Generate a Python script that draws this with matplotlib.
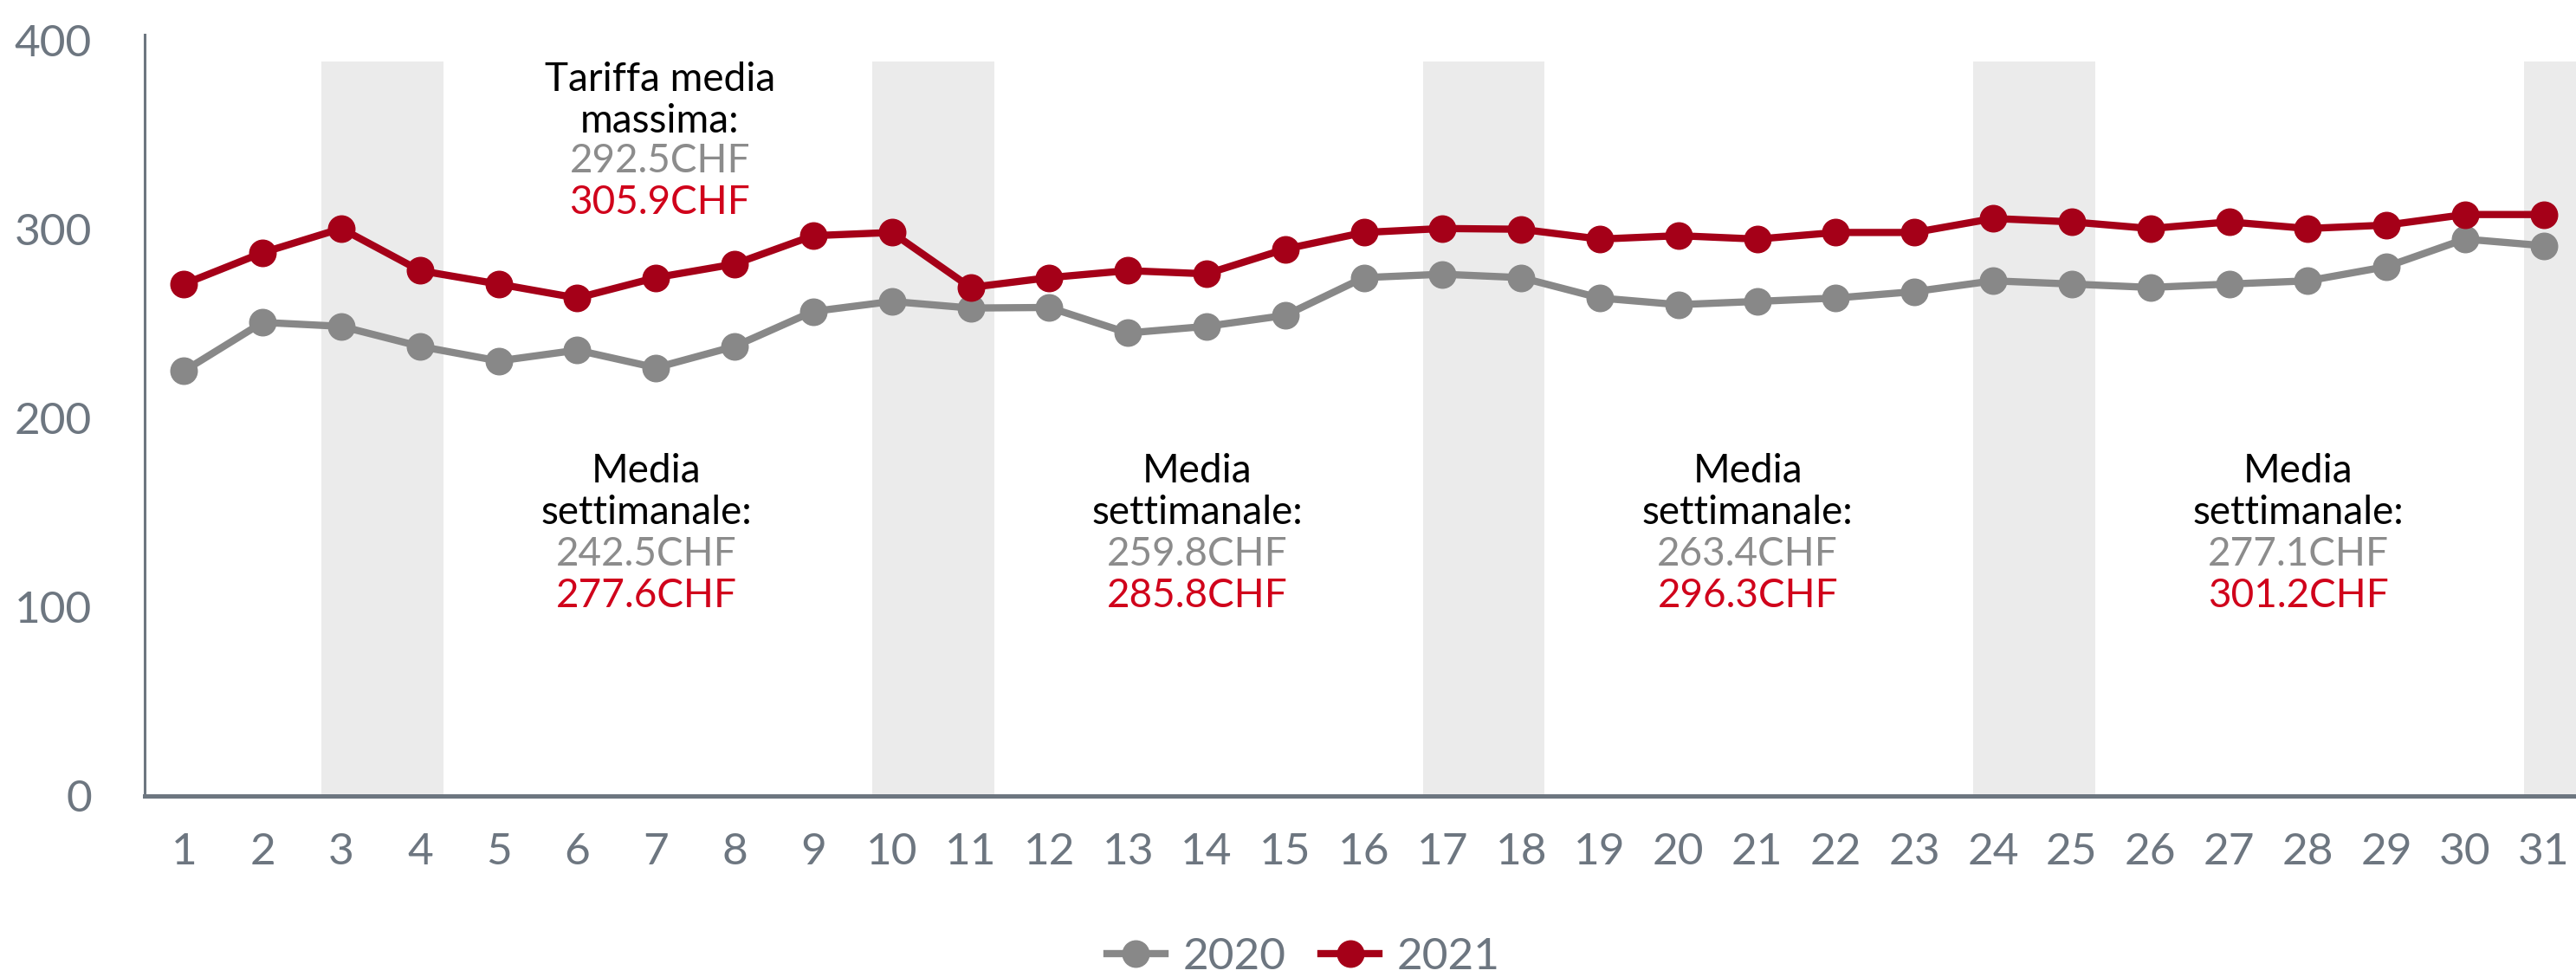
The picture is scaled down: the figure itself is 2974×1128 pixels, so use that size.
import matplotlib.pyplot as plt
import numpy as np

plt.rcParams['font.family'] = ['Lato', 'DejaVu Sans']

# daily average fare, CHF
days = np.arange(1, 32)
fare_2020 = [225, 250.7, 248.6, 238, 230.3, 236, 226.7, 238, 256.5, 261.8,
             258.3, 258.6, 245.1, 248.6, 254.4, 274.4, 276.2, 274.4, 263.6, 260.1,
             261.8, 263.6, 267, 272.7, 271, 269.2, 271, 272.7, 280.2, 294.8, 291.3]
fare_2021 = [271, 287.6, 300.4, 278.1, 271, 263.6, 274.4, 281.6, 296.6, 298.3,
             269.2, 274.4, 278.1, 276.4, 289.5, 298.3, 300.4, 300, 294.8, 296.6,
             294.8, 298.3, 298.3, 305.7, 303.9, 300.4, 303.9, 300.4, 302.2, 307.8, 307.8]

weekend_start = [3, 10, 17, 24, 31]
week_mid = [7, 14, 21, 28]
week_avg_2020 = ['242.5CHF', '259.8CHF', '263.4CHF', '277.1CHF']
week_avg_2021 = ['277.6CHF', '285.8CHF', '296.3CHF', '301.2CHF']
max_2020 = '292.5CHF'
max_2021 = '305.9CHF'

c_2020 = '#888888'
c_2021 = '#a50018'
c_txt_2020 = '#8c8c8c'
c_txt_2021 = '#d0021b'
c_axis = '#6d7680'

fig = plt.figure(figsize=(29.74, 11.28), dpi=100)
ax = fig.add_axes([0.05615, 0.1853, 0.94385, 0.7792])

# weekend bands
for d in weekend_start:
    ax.fill_between([d - 0.25, d + 1.3], 0, 389, color='#ebebeb', lw=0, zorder=0)

ax.plot(days, fare_2020, color=c_2020, lw=6, marker='o', ms=22, label='2020', zorder=3)
ax.plot(days, fare_2021, color=c_2021, lw=6, marker='o', ms=22, label='2021', zorder=4)

ax.set_xlim(0.5, 31.41)
ax.set_ylim(0, 403)
ax.set_xticks(days)
ax.set_yticks([0, 100, 200, 300, 400])
ax.tick_params(axis='both', length=0, labelsize=37, colors=c_axis)
ax.tick_params(axis='x', pad=30)
ax.tick_params(axis='y', pad=44)
for s in ['top', 'right']:
    ax.spines[s].set_visible(False)
ax.spines['left'].set_color(c_axis)
ax.spines['left'].set_linewidth(2.2)
ax.spines['bottom'].set_color(c_axis)
ax.spines['bottom'].set_linewidth(3.6)

# annotation: max
fs = 33
mx = 7.05
ax.text(mx, 379, 'Tariffa media', ha='center', va='center', fontsize=fs, color='black')
ax.text(mx, 357, 'massima:', ha='center', va='center', fontsize=fs, color='black')
ax.text(mx, 336, max_2020, ha='center', va='center', fontsize=fs, color=c_txt_2020)
ax.text(mx, 314, max_2021, ha='center', va='center', fontsize=fs, color=c_txt_2021)

# annotation: weekly averages
for i in range(len(week_mid)):
    x = week_mid[i] - 0.12
    ax.text(x, 172, 'Media', ha='center', va='center', fontsize=fs, color='black')
    ax.text(x, 150, 'settimanale:', ha='center', va='center', fontsize=fs, color='black')
    ax.text(x, 128, week_avg_2020[i], ha='center', va='center', fontsize=fs, color=c_txt_2020)
    ax.text(x, 106, week_avg_2021[i], ha='center', va='center', fontsize=fs, color=c_txt_2021)

leg = fig.legend(loc='center', bbox_to_anchor=(0.506, 0.02), ncol=2, frameon=False,
                 fontsize=37, handlelength=1.3, handletextpad=0.4, columnspacing=0.8)
for t in leg.get_texts():
    t.set_color(c_axis)

fig.savefig('out.png', dpi=100)
